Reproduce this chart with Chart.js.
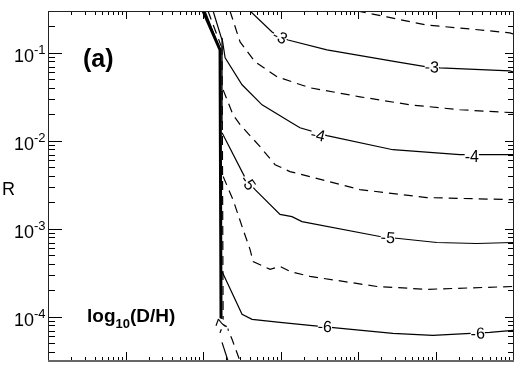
<!DOCTYPE html>
<html>
<head>
<meta charset="utf-8">
<script src="https://cdn.jsdelivr.net/npm/chart.js@4.4.0/dist/chart.umd.min.js"></script>
<style>
html, body { margin: 0; padding: 0; background: #fff; }
#wrap { width: 519px; height: 371px; }
</style>
</head>
<body>
<div id="wrap"><canvas id="chart"></canvas></div>
<script>
// axis ranges (x has no labels in the original, 6 decades)
const xRange = [1, 1e6];
const yRange = [3.16e-5, 0.299];
const yTickExps = [-1, -2, -3, -4];

// contour lines, [x, R]
const edgeThick = [[100, 0.299], [166, 0.108], [171, 0.0000723]];
const edgeThin1 = [[106, 0.299], [166, 0.108]];
const edgeThin2 = [[135, 0.299], [176, 0.140], [176, 0.0161]];
const edgeDash1 = [[116, 0.299], [171, 0.12]];
const edgeDash2 = [[176, 0.12], [182, 0.0000723]];

const c25 = [[9680, 0.299], [23570, 0.256], [77200, 0.207], [277000, 0.187], [908000, 0.169], [1e6, 0.164]];
const c3 = [[405, 0.299], [778, 0.173], [986, 0.152], [1250, 0.140], [3972, 0.108], [31700, 0.0791], [77200, 0.0693], [114000, 0.0676], [908000, 0.0625], [1e6, 0.0609]];
const c35 = [[223, 0.299], [301, 0.133], [470, 0.0791], [902, 0.0535], [2399, 0.0401], [10570, 0.0317], [46700, 0.0257], [206000, 0.0226], [1e6, 0.0209]];
const c4 = [[176, 0.148], [193, 0.0878], [319, 0.0434], [578, 0.0257], [1325, 0.0165], [1783, 0.0141], [3972, 0.01146], [28180, 0.00794], [206000, 0.00698], [1e6, 0.00698]];
const c45 = [[182, 0.0380], [244, 0.0198], [301, 0.0153], [545, 0.00859], [851, 0.00537], [1325, 0.00448], [2399, 0.00393], [10570, 0.00280], [77200, 0.00227], [1e6, 0.00215]];
const c5 = [[176, 0.0124], [349, 0.00383], [470, 0.00280], [986, 0.00146], [1406, 0.00138], [1892, 0.00121], [19150, 0.00082], [104000, 0.000701], [341000, 0.000683], [1e6, 0.000701]];
const c55 = [[182, 0.00393], [244, 0.00215], [329, 0.000985], [405, 0.000583], [443, 0.000427], [733, 0.000347], [986, 0.000375], [1325, 0.000329], [2399, 0.000289], [17530, 0.000222], [77200, 0.000206], [1e6, 0.000222]];
const c6 = [[176, 0.000329], [319, 0.000107], [430, 0.0000940], [986, 0.0000869], [2399, 0.0000803], [28180, 0.0000651], [92300, 0.0000618], [501000, 0.0000668], [1e6, 0.0000705]];
const c65 = [[193, 0.0000869], [237, 0.0000557], [301, 0.0000314]];
const c7 = [[176, 0.0000515], [211, 0.0000314]];

// contour labels: text, x, R, angle (deg)
const contourLabels = [
  ["-3", 986, 0.152, 27], ["-3", 89600, 0.0693, 3],
  ["-4", 3040, 0.0117, 14], ["-4", 294000, 0.00662, 0],
  ["-5", 382, 0.00336, 55], ["-5", 24300, 0.000798, 5],
  ["-6", 3740, 0.0000782, 3], ["-6", 351000, 0.0000651, -2],
  ["-7", 171, 0.0000782, -70]
];

const FONT = '"Liberation Sans", Arial, Helvetica, sans-serif';

function line(pts, dashed, width) {
  return {
    data: pts.map(p => ({ x: p[0], y: p[1] })),
    showLine: true,
    borderColor: "#000",
    borderWidth: width || 1.2,
    borderDash: dashed ? [9, 6] : [],
    pointRadius: 0,
    tension: 0,
    fill: false
  };
}

const framePlugin = {
  id: "frame",
  afterDatasetsDraw(chart) {
    const ctx = chart.ctx;
    const xs = chart.scales.x, ys = chart.scales.y;

    // contour labels
    ctx.save();
    ctx.font = "16px " + FONT;
    ctx.textAlign = "center";
    ctx.textBaseline = "middle";
    contourLabels.forEach(l => {
      const px = xs.getPixelForValue(l[1]), py = ys.getPixelForValue(l[2]);
      ctx.save();
      ctx.translate(px, py);
      ctx.rotate(l[3] * Math.PI / 180);
      const w = ctx.measureText(l[0]).width;
      ctx.fillStyle = "#fff";
      ctx.fillRect(-w / 2, -7, w, 14);
      ctx.fillStyle = "#000";
      ctx.fillText(l[0], 0, 1);
      ctx.restore();
    });
    ctx.restore();
  },
  afterDraw(chart) {
    const ctx = chart.ctx;
    const xs = chart.scales.x, ys = chart.scales.y;
    const a = chart.chartArea;
    ctx.save();

    // ticks
    ctx.strokeStyle = "#000";
    ctx.lineWidth = 1;
    ctx.beginPath();
    for (let d = 0; d <= 6; d++) {
      for (let k = 1; k <= 9; k++) {
        const v = k * Math.pow(10, d);
        if (v > xRange[1] * 1.0001) break;
        const px = Math.round(xs.getPixelForValue(v)) + 0.5;
        const major = k === 1;
        ctx.moveTo(px, a.bottom); ctx.lineTo(px, a.bottom - (major ? 9 : 4));
        ctx.moveTo(px, a.top); ctx.lineTo(px, a.top + (major ? 8 : 4));
      }
    }
    for (let e = -5; e <= -1; e++) {
      for (let k = 1; k <= 9; k++) {
        const v = k * Math.pow(10, e);
        if (v < yRange[0] || v > yRange[1]) continue;
        const py = Math.round(ys.getPixelForValue(v)) + 0.5;
        const major = k === 1;
        ctx.moveTo(a.left, py); ctx.lineTo(a.left + (major ? 14 : 7), py);
        ctx.moveTo(a.right, py); ctx.lineTo(a.right - (major ? 8 : 5), py);
      }
    }
    ctx.stroke();

    // frame
    ctx.strokeStyle = "#222";
    ctx.lineWidth = 1;
    ctx.strokeRect(Math.round(a.left) + 0.5, Math.round(a.top) + 0.5, Math.round(a.right - a.left), Math.round(a.bottom - a.top));
    ctx.strokeStyle = "#666";
    ctx.lineWidth = 2;
    ctx.beginPath();
    ctx.moveTo(a.left, a.bottom); ctx.lineTo(a.right + 1, a.bottom);
    ctx.stroke();

    // y tick labels 10^n
    ctx.fillStyle = "#000";
    yTickExps.forEach(e => {
      const py = ys.getPixelForValue(Math.pow(10, e));
      ctx.font = "18px " + FONT;
      ctx.textAlign = "right";
      ctx.textBaseline = "alphabetic";
      ctx.fillText("10", 34, py + 9);
      ctx.font = "13px " + FONT;
      ctx.textAlign = "left";
      ctx.fillText(String(e), 34, py + 1);
    });

    // axis title
    ctx.font = "18px " + FONT;
    ctx.textAlign = "left";
    ctx.fillText("R", 2, 195);

    // panel tag
    ctx.font = "bold 25px " + FONT;
    ctx.fillText("(a)", 83, 67);

    // quantity label
    ctx.font = "bold 19px " + FONT;
    ctx.fillText("log", 87, 322);
    let w = ctx.measureText("log").width;
    ctx.font = "bold 13px " + FONT;
    ctx.fillText("10", 87 + w, 328);
    const w2 = ctx.measureText("10").width;
    ctx.font = "bold 19px " + FONT;
    ctx.fillText("(D/H)", 87 + w + w2, 322);

    ctx.restore();
  }
};

new Chart(document.getElementById("chart"), {
  type: "scatter",
  data: {
    datasets: [
      line(edgeThick, false, 3),
      line(edgeThin1, false),
      line(edgeThin2, false),
      line(edgeDash1, true),
      line(edgeDash2, true),
      line(c25, true), line(c3, false), line(c35, true), line(c4, false),
      line(c45, true), line(c5, false), line(c55, true), line(c6, false),
      line(c65, true), line(c7, false)
    ]
  },
  options: {
    responsive: true,
    maintainAspectRatio: false,
    animation: false,
    layout: { padding: { left: 48, right: 6, top: 11, bottom: 10 } },
    plugins: { legend: { display: false }, tooltip: { enabled: false } },
    scales: {
      x: { type: "logarithmic", min: xRange[0], max: xRange[1], display: false },
      y: { type: "logarithmic", min: yRange[0], max: yRange[1], display: false }
    }
  },
  plugins: [framePlugin]
});
</script>
</body>
</html>
